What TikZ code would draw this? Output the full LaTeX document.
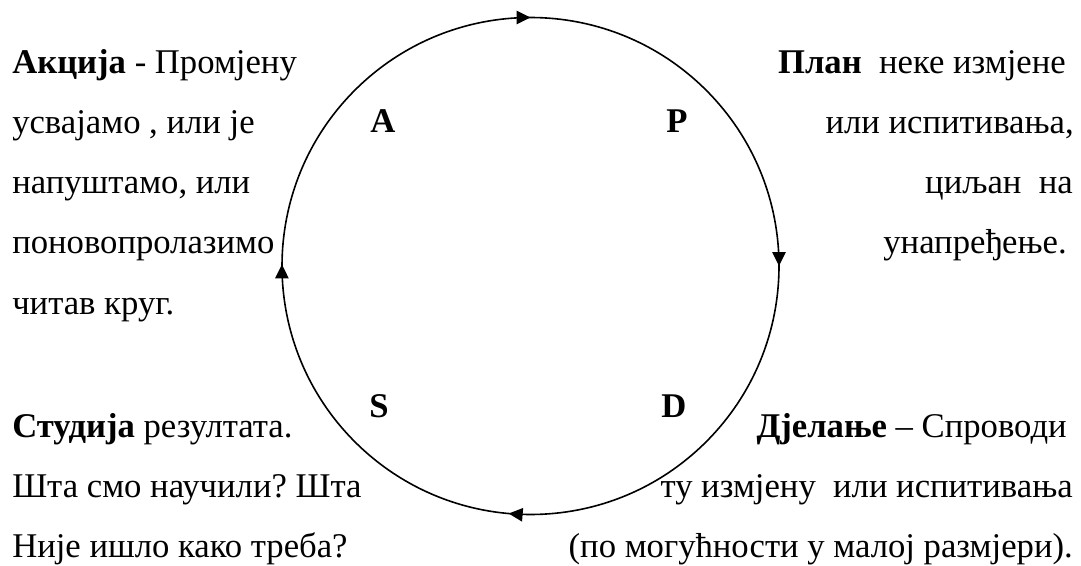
\documentclass[tikz,border=0pt]{standalone}
\usepackage{fontspec}
\setmainfont{Liberation Serif}
\frenchspacing
\usetikzlibrary{arrows.meta,decorations.markings}
\begin{document}
\begin{tikzpicture}[x=0.75pt,y=0.75pt,
  txt/.style={inner sep=0pt,font=\fontsize{26}{31}\selectfont},
  lbl/.style={inner sep=0pt,font=\fontsize{26}{31}\selectfont\bfseries},
  cyctip/.tip={Triangle[length=10.5pt,width=10pt]}]
\useasboundingbox (0,0) rectangle (1081,565);
% cycle circle (clockwise)
\coordinate (c) at (530.5,299);
\draw[line width=1.2pt,
  postaction={decorate},
  decoration={markings,
    mark=at position 0.125 with {\arrow{cyctip}},
    mark=at position 0.375 with {\arrow{cyctip}},
    mark=at position 0.639 with {\arrow{cyctip}},
    mark=at position 0.876 with {\arrow{cyctip}}}]
  (c) ++(135:248.5) arc[start angle=135,end angle=-225,radius=248.5];
% phase letters
\node[lbl,anchor=base west] (A) at (370,565-133) {A};
\node[lbl,anchor=base west] (P) at (666,565-133) {P};
\node[lbl,anchor=base west] (S) at (369,565-417) {S};
\node[lbl,anchor=base west] (D) at (661,565-417) {D};
% Action (top left)
\node[txt,anchor=base west] (a1) at (12,565-74) {\textbf{Акција} - Промјену};
\node[txt,anchor=base west] (a2) at (12,565-134) {усвајамо , или је};
\node[txt,anchor=base west] (a3) at (12,565-194) {напуштамо, или};
\node[txt,anchor=base west] (a4) at (12,565-254) {поновопролазимо};
\node[txt,anchor=base west] (a5) at (12,565-314) {читав круг.};
% Plan (top right)
\node[txt,anchor=base east] (p1) at (1066,565-74) {\textbf{План}\ \ неке измјене};
\node[txt,anchor=base east] (p2) at (1074,565-134) {или испитивања,};
\node[txt,anchor=base east] (p3) at (1073,565-194) {циљан\ \ на};
\node[txt,anchor=base east] (p4) at (1067,565-254) {унапређење.};
% Study (bottom left)
\node[txt,anchor=base west] (s1) at (12,565-437) {\textbf{Студија} резултата.};
\node[txt,anchor=base west] (s2) at (12,565-497) {Шта смо научили? Шта};
\node[txt,anchor=base west] (s3) at (12,565-557) {Није ишло како треба?};
% Do (bottom right)
\node[txt,anchor=base east] (d1) at (1067,565-437) {\textbf{Дјелање} – Спроводи};
\node[txt,anchor=base east] (d2) at (1073,565-497) {ту измјену\ \ или испитивања};
\node[txt,anchor=base east] (d3) at (1073,565-557) {(по могућности у малој размјери).};
\end{tikzpicture}
\end{document}
